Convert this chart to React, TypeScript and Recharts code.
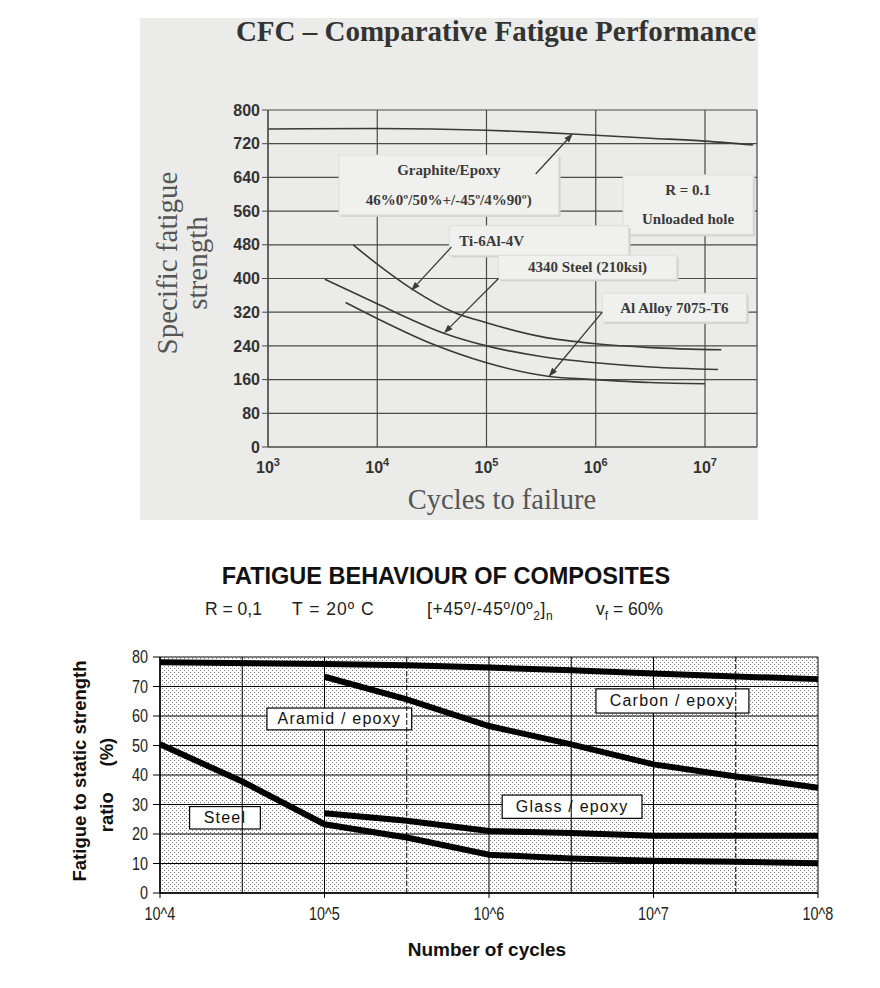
import React from 'react'
import { LineChart, Line, XAxis, YAxis, CartesianGrid, ReferenceArea, ReferenceLine } from 'recharts'

const sans = '"Liberation Sans", Arial, sans-serif'
const serif = '"Liberation Serif", "Times New Roman", serif'

// ---- top chart (x = log10 of cycles) ----
const topXTicks = [3, 4, 5, 6, 7]
const topYTicks = [0, 80, 160, 240, 320, 400, 480, 560, 640, 720, 800]

const graphiteEpoxy = [
  { x: 3, y: 755 },
  { x: 4, y: 756 },
  { x: 5, y: 752 },
  { x: 5.5, y: 747 },
  { x: 6, y: 740 },
  { x: 6.5, y: 733 },
  { x: 7, y: 726 },
  { x: 7.44, y: 717 },
]
const titanium = [
  { x: 3.78, y: 480 },
  { x: 4, y: 434 },
  { x: 4.33, y: 373 },
  { x: 4.7, y: 320 },
  { x: 5, y: 295 },
  { x: 5.5, y: 262 },
  { x: 6, y: 245 },
  { x: 6.5, y: 236 },
  { x: 7.15, y: 231 },
]
const steel4340 = [
  { x: 3.52, y: 398 },
  { x: 4, y: 340 },
  { x: 4.29, y: 305 },
  { x: 4.61, y: 270 },
  { x: 5, y: 240 },
  { x: 5.5, y: 215 },
  { x: 6, y: 200 },
  { x: 6.5, y: 190 },
  { x: 7.12, y: 184 },
]
const alAlloy = [
  { x: 3.71, y: 343 },
  { x: 4, y: 305 },
  { x: 4.5, y: 245 },
  { x: 5, y: 200 },
  { x: 5.56, y: 168 },
  { x: 6, y: 160 },
  { x: 6.5, y: 153 },
  { x: 7, y: 150 },
]

// ---- bottom chart (x = log10 of cycles) ----
const botXTicks = [4, 5, 6, 7, 8]
const botXLabels = ['10^4', '10^5', '10^6', '10^7', '10^8']
const botYTicks = [0, 10, 20, 30, 40, 50, 60, 70, 80]
const halfDecades = [4.5, 5.5, 6.5, 7.5]
const dashedHalf = [5.5, 7.5]

const carbonEpoxy = [
  { x: 4, y: 78.2 },
  { x: 5, y: 77.6 },
  { x: 5.5, y: 77.2 },
  { x: 6, y: 76.4 },
  { x: 6.5, y: 75.5 },
  { x: 7, y: 74.4 },
  { x: 7.5, y: 73.4 },
  { x: 8, y: 72.5 },
]
const aramidEpoxy = [
  { x: 5, y: 73.3 },
  { x: 5.5, y: 65.6 },
  { x: 6, y: 56.6 },
  { x: 6.5, y: 50.4 },
  { x: 7, y: 43.6 },
  { x: 7.5, y: 39.5 },
  { x: 8, y: 35.7 },
]
const glassEpoxy = [
  { x: 5, y: 27 },
  { x: 5.5, y: 24.5 },
  { x: 6, y: 21 },
  { x: 6.5, y: 20.3 },
  { x: 7, y: 19.4 },
  { x: 7.5, y: 19.4 },
  { x: 8, y: 19.4 },
]
const steel = [
  { x: 4, y: 50.4 },
  { x: 4.5, y: 37.8 },
  { x: 5, y: 23.3 },
  { x: 5.5, y: 18.8 },
  { x: 6, y: 13 },
  { x: 6.5, y: 11.7 },
  { x: 7, y: 10.9 },
  { x: 7.5, y: 10.6 },
  { x: 8, y: 10.1 },
]

function SupTick(props: any) {
  const { x, y, payload } = props
  return (
    <text x={x} y={y} dy={18} textAnchor="middle" fontFamily={sans} fontWeight="bold" fontSize={16} fill="#333">
      <tspan>10</tspan>
      <tspan dy={-7} fontSize={11}>{payload.value}</tspan>
    </text>
  )
}

// narrow-looking tick text (squeezed horizontally)
function NarrowTick(props: any) {
  const { x, y, payload, textAnchor, axis } = props
  const label = axis === 'x' ? botXLabels[botXTicks.indexOf(payload.value)] : String(payload.value)
  return (
    <g transform={`translate(${x},${y})`}>
      <text
        transform="scale(0.8,1)"
        textAnchor={textAnchor}
        dy={axis === 'x' ? 18 : 6}
        fontFamily={sans}
        fontSize={18}
        fill="#222"
      >
        {label}
      </text>
    </g>
  )
}

function TopBox(props: any) {
  const { x, y, width, height, lines, align } = props
  if (x == null || y == null) return null
  return (
    <g>
      <rect x={x + 2} y={y + 2} width={width} height={height} fill="#d2d2d0" />
      <rect x={x} y={y} width={width} height={height} fill="#f0f0ee" stroke="#dededc" />
      {lines.map((t: string, i: number) => (
        <text
          key={i}
          x={align === 'left' ? x + 10 : x + width / 2}
          y={y + (height * (i + 0.5)) / lines.length}
          dominantBaseline="central"
          textAnchor={align === 'left' ? 'start' : 'middle'}
          fontFamily={serif}
          fontWeight="bold"
          fontSize={15}
          fill="#3a3a3a"
        >
          {t}
        </text>
      ))}
    </g>
  )
}

function ArrowLine(props: any) {
  const { x1, y1, x2, y2 } = props
  if ([x1, y1, x2, y2].some((v) => v == null || isNaN(v))) return null
  const a = Math.atan2(y2 - y1, x2 - x1)
  const L = 9
  const W = 3.2
  const bx = x2 - L * Math.cos(a)
  const by = y2 - L * Math.sin(a)
  const pts = `${x2},${y2} ${bx + W * Math.sin(a)},${by - W * Math.cos(a)} ${bx - W * Math.sin(a)},${by + W * Math.cos(a)}`
  return (
    <g>
      <line x1={x1} y1={y1} x2={bx} y2={by} stroke="#3a3a3a" strokeWidth={1.3} />
      <polygon points={pts} fill="#3a3a3a" />
    </g>
  )
}

function BottomBox(props: any) {
  const { x, y, width, height, text } = props
  if (x == null || y == null) return null
  return (
    <g>
      <rect x={x} y={y} width={width} height={height} fill="#fff" stroke="#000" strokeWidth={1.2} />
      <text
        x={x + width / 2}
        y={y + height / 2}
        dominantBaseline="central"
        textAnchor="middle"
        fontFamily={sans}
        fontSize={16}
        letterSpacing={1.2}
        fill="#111"
      >
        {text}
      </text>
    </g>
  )
}

const rotated = (cx: number, cy: number): React.CSSProperties => ({
  position: 'absolute',
  left: cx,
  top: cy,
  transform: 'translate(-50%, -50%) rotate(-90deg)',
  whiteSpace: 'pre',
})

function TopChart() {
  const lineProps = { type: 'monotone' as const, dataKey: 'y', stroke: '#3a3a3a', strokeWidth: 1.6, dot: false, isAnimationActive: false }
  return (
    <div style={{ position: 'absolute', left: 140, top: 18, width: 618, height: 502, background: '#ebebe9' }}>
      <div style={{ position: 'absolute', left: 0, width: 712, top: -3, textAlign: 'center', fontFamily: serif, fontWeight: 'bold', fontSize: 29, color: '#333', whiteSpace: 'nowrap' }}>
        CFC – Comparative Fatigue Performance
      </div>
      <div style={{ ...rotated(27, 245), fontFamily: serif, fontSize: 29, color: '#555' }}>Specific fatigue</div>
      <div style={{ ...rotated(57, 245), fontFamily: serif, fontSize: 29, color: '#555' }}>strength</div>
      <div style={{ position: 'absolute', left: 362, top: 482, transform: 'translate(-50%, -50%)', fontFamily: serif, fontSize: 28.5, color: '#555', whiteSpace: 'nowrap' }}>
        Cycles to failure
      </div>
      <LineChart width={618} height={502} margin={{ top: 92, right: 1, bottom: 43, left: 68 }} style={{ position: 'absolute', left: 0, top: 0 }}>
        <CartesianGrid stroke="#4a4a4a" strokeWidth={1.2} />
        <XAxis
          type="number"
          dataKey="x"
          domain={[3, 7.476]}
          ticks={topXTicks}
          height={30}
          tick={<SupTick />}
          tickLine={false}
          axisLine={{ stroke: '#4a4a4a', strokeWidth: 1.2 }}
          allowDataOverflow
        />
        <YAxis
          type="number"
          domain={[0, 800]}
          ticks={topYTicks}
          width={60}
          tick={{ fontFamily: sans, fontWeight: 'bold', fontSize: 16, fill: '#333' }}
          tickLine={{ stroke: '#4a4a4a' }}
          axisLine={{ stroke: '#4a4a4a', strokeWidth: 1.2 }}
        />
        <Line data={graphiteEpoxy} {...lineProps} />
        <Line data={titanium} {...lineProps} />
        <Line data={steel4340} {...lineProps} />
        <Line data={alAlloy} {...lineProps} />
        <ReferenceArea x1={3.65} x2={5.66} y1={551} y2={693} shape={(p: any) => <TopBox {...p} lines={['Graphite/Epoxy', '46%0º/50%+/-45º/4%90º)']} />} />
        <ReferenceArea x1={6.25} x2={7.44} y1={505} y2={646} shape={(p: any) => <TopBox {...p} lines={['R = 0.1', 'Unloaded hole']} />} />
        <ReferenceArea x1={4.66} x2={6.3} y1={455} y2={525} shape={(p: any) => <TopBox {...p} align="left" lines={['Ti-6Al-4V']} />} />
        <ReferenceArea x1={5.11} x2={6.74} y1={398} y2={455} shape={(p: any) => <TopBox {...p} lines={['4340 Steel (210ksi)']} />} />
        <ReferenceArea x1={6.06} x2={7.38} y1={297} y2={365} shape={(p: any) => <TopBox {...p} lines={['Al Alloy 7075-T6']} />} />
        <ReferenceLine segment={[{ x: 5.45, y: 648 }, { x: 5.79, y: 744 }]} shape={(p: any) => <ArrowLine {...p} />} />
        <ReferenceLine segment={[{ x: 4.68, y: 475 }, { x: 4.31, y: 371 }]} shape={(p: any) => <ArrowLine {...p} />} />
        <ReferenceLine segment={[{ x: 5.11, y: 400 }, { x: 4.61, y: 270 }]} shape={(p: any) => <ArrowLine {...p} />} />
        <ReferenceLine segment={[{ x: 6.06, y: 320 }, { x: 5.57, y: 167 }]} shape={(p: any) => <ArrowLine {...p} />} />
      </LineChart>
    </div>
  )
}

function BottomChart() {
  const lineProps = { type: 'linear' as const, dataKey: 'y', stroke: '#000', strokeWidth: 6, dot: false, isAnimationActive: false }
  const sub: React.CSSProperties = { position: 'absolute', top: 599, fontFamily: sans, fontSize: 17.5, color: '#222', whiteSpace: 'nowrap' }
  return (
    <>
      <div style={{ position: 'absolute', left: 0, width: 892, top: 563, textAlign: 'center', fontFamily: sans, fontWeight: 'bold', fontSize: 23.5, color: '#111' }}>
        FATIGUE BEHAVIOUR OF COMPOSITES
      </div>
      <span style={{ ...sub, left: 205 }}>R = 0,1</span>
      <span style={{ ...sub, left: 292, letterSpacing: 1 }}>T = 20º C</span>
      <span style={{ ...sub, left: 427, letterSpacing: 0.6 }}>
        [+45º/-45º/0º<sub style={{ fontSize: 12 }}>2</sub>]<sub style={{ fontSize: 12 }}>n</sub>
      </span>
      <span style={{ ...sub, left: 596 }}>
        v<sub style={{ fontSize: 12 }}>f</sub> = 60%
      </span>
      <div style={{ ...rotated(80, 771), fontFamily: sans, fontWeight: 'bold', fontSize: 18.5, color: '#111' }}>Fatigue to static strength</div>
      <div style={{ ...rotated(107, 785), fontFamily: sans, fontWeight: 'bold', fontSize: 18.5, color: '#111' }}>{'ratio     (%)'}</div>
      <div style={{ position: 'absolute', left: 487, top: 950, transform: 'translate(-50%, -50%)', fontFamily: sans, fontWeight: 'bold', fontSize: 19, color: '#111', whiteSpace: 'nowrap' }}>
        Number of cycles
      </div>
      <LineChart width={880} height={458} margin={{ top: 127, right: 62, bottom: 65, left: 120 }} style={{ position: 'absolute', left: 0, top: 530 }}>
        <defs>
          <pattern id="dots" width="4" height="4" patternUnits="userSpaceOnUse">
            <rect x="0" y="0" width="1" height="1" fill="#7a7a7a" />
            <rect x="2" y="2" width="1" height="1" fill="#7a7a7a" />
          </pattern>
        </defs>
        <CartesianGrid stroke="#000" strokeWidth={1} fill="url(#dots)" />
        <XAxis
          type="number"
          dataKey="x"
          domain={[4, 8]}
          ticks={botXTicks}
          height={30}
          tickSize={5}
          tickMargin={4}
          tick={<NarrowTick axis="x" />}
          tickLine={{ stroke: '#000' }}
          axisLine={{ stroke: '#000', strokeWidth: 1.5 }}
        />
        <YAxis
          type="number"
          domain={[0, 80]}
          ticks={botYTicks}
          width={40}
          tickSize={7}
          tickMargin={5}
          tick={<NarrowTick axis="y" />}
          tickLine={{ stroke: '#000' }}
          axisLine={{ stroke: '#000', strokeWidth: 1.5 }}
        />
        {halfDecades.map((h) => (
          <ReferenceLine key={h} x={h} stroke="#000" strokeWidth={1} strokeDasharray={dashedHalf.includes(h) ? '5 2' : undefined} />
        ))}
        <Line data={carbonEpoxy} {...lineProps} />
        <Line data={aramidEpoxy} {...lineProps} />
        <Line data={glassEpoxy} {...lineProps} />
        <Line data={steel} {...lineProps} />
        <ReferenceArea x1={6.65} x2={7.58} y1={61} y2={69.2} shape={(p: any) => <BottomBox {...p} text="Carbon / epoxy" />} />
        <ReferenceArea x1={4.65} x2={5.53} y1={55.3} y2={62.7} shape={(p: any) => <BottomBox {...p} text="Aramid / epoxy" />} />
        <ReferenceArea x1={6.08} x2={6.93} y1={25.3} y2={33.2} shape={(p: any) => <BottomBox {...p} text="Glass / epoxy" />} />
        <ReferenceArea x1={4.18} x2={4.61} y1={21.7} y2={29.3} shape={(p: any) => <BottomBox {...p} text="Steel" />} />
      </LineChart>
    </>
  )
}

export default function App() {
  return (
    <div style={{ position: 'absolute', left: 0, top: 0, width: 880, height: 988, background: '#fff', overflow: 'hidden' }}>
      <TopChart />
      <BottomChart />
    </div>
  )
}
